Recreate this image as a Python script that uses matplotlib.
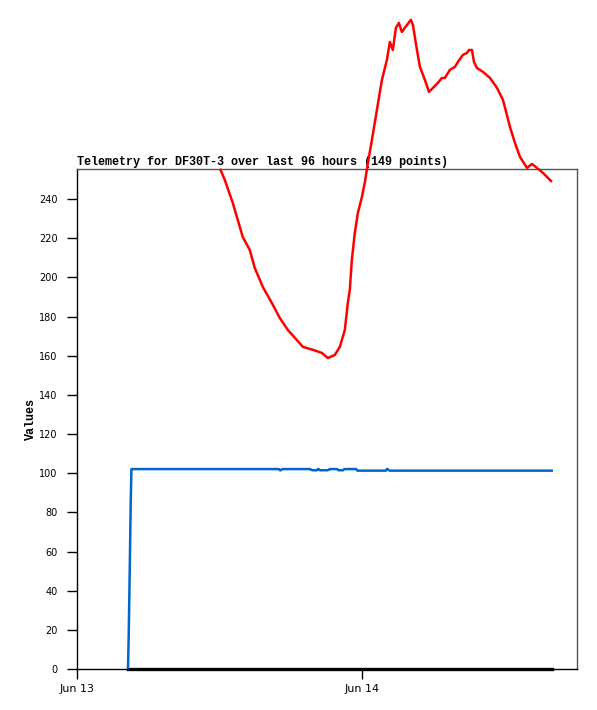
import matplotlib
matplotlib.use("Agg")
import matplotlib.pyplot as plt
import matplotlib.dates as mdates
from datetime import datetime, timedelta

# -----------------------------------
# Data (hours since Jun 13 00:00, values)
# -----------------------------------
start = datetime(2023, 6, 13)

red_hours = [12.08, 12.44, 13.11, 13.95, 14.54, 14.96, 15.64, 16.40, 17.07, 17.75,
             18.50, 19.01, 19.85, 20.61, 21.11, 21.70, 22.12, 22.54, 22.79, 22.96,
             23.13, 23.38, 23.64, 23.98, 24.23, 24.48, 24.82, 25.24, 25.66, 26.08,
             26.33, 26.58, 26.84, 27.09, 27.34, 27.59, 28.10, 28.27, 28.61, 28.86,
             29.28, 29.62, 29.95, 30.37, 30.71, 30.96, 31.38, 31.81, 32.06, 32.48,
             32.82, 32.99, 33.24, 33.41, 33.66, 34.17, 34.76, 35.35, 35.85, 36.44,
             36.86, 37.28, 37.87, 38.29, 38.71, 39.22, 39.89]
red_values = [254.9, 249.7, 238.0, 220.6, 214.0, 204.8, 195.1, 186.9, 179.2, 173.1,
              168.0, 164.5, 163.0, 161.4, 158.8, 160.4, 164.5, 173.1, 186.9, 193.6,
              208.9, 222.7, 232.9, 241.1, 248.7, 258.4, 270.2, 285.5, 300.8, 311.0,
              320.2, 316.1, 327.4, 329.9, 325.3, 327.4, 331.5, 328.9, 316.1, 307.5,
              300.8, 294.7, 296.7, 299.3, 301.8, 301.8, 305.9, 307.5, 310.0, 313.6,
              314.6, 316.1, 316.1, 310.0, 306.9, 304.9, 301.8, 296.7, 290.6, 276.8,
              268.6, 261.5, 255.9, 257.9, 255.9, 253.3, 249.2]

blue_hours = [4.29, 4.35, 4.44, 4.52, 4.58, 17.0, 17.1, 17.3, 19.6, 19.8,
              20.2, 20.3, 20.45, 21.1, 21.3, 21.9, 22.0, 22.4, 22.5, 23.5,
              23.6, 26.0, 26.1, 26.3, 39.95]
blue_values = [0, 17, 51.6, 85, 102.1, 102.1, 101.4, 102.1, 102.1, 101.5,
               101.5, 102.2, 101.5, 101.5, 102.1, 102.1, 101.5, 101.5, 102.1, 102.1,
               101.3, 101.3, 102.2, 101.3, 101.3]

black_hours = [4.29, 39.95]
black_values = [0, 0]

x_max_hours = 42.08
y_ticks = list(range(0, 241, 20))

def to_dates(hours):
    return [start + timedelta(hours=h) for h in hours]

# -----------------------------------
# Plot
# -----------------------------------
mono = ['Liberation Mono', 'DejaVu Sans Mono']

fig = plt.figure(figsize=(5.97, 7.10), dpi=100)
ax = fig.add_axes([0.129, 0.0577, 0.8375, 0.7042])

ax.plot(to_dates(black_hours), black_values, color='black', lw=2.4, zorder=3, clip_on=False)
ax.plot(to_dates(blue_hours), blue_values, color='#0066cc', lw=1.8, zorder=4)
ax.plot(to_dates(red_hours), red_values, color='#ff0000', lw=1.8, zorder=5, clip_on=False)

ax.set_xlim(start, start + timedelta(hours=x_max_hours))
ax.set_ylim(0, 255.3)
ax.set_yticks(y_ticks)

ax.xaxis.set_major_locator(mdates.DayLocator())
ax.xaxis.set_major_formatter(mdates.DateFormatter('%b %d'))

ax.tick_params(axis='both', direction='out', length=7, width=1, colors='black')
ax.tick_params(axis='y', pad=7, labelsize=7)
ax.tick_params(axis='x', pad=4, labelsize=8)

for s in ['top', 'right']:
    ax.spines[s].set_color('#555555')
    ax.spines[s].set_linewidth(1)
for s in ['left', 'bottom']:
    ax.spines[s].set_color('black')
    ax.spines[s].set_linewidth(1)

ax.set_title("Telemetry for DF30T-3 over last 96 hours (149 points)",
             loc='left', family=mono, fontweight='bold', fontsize=8.5, pad=3)
ax.set_ylabel("Values", family=mono, fontweight='bold', fontsize=8.5)
ax.yaxis.set_label_coords(-0.08, 0.5)

plt.savefig("out.png", dpi=100)
